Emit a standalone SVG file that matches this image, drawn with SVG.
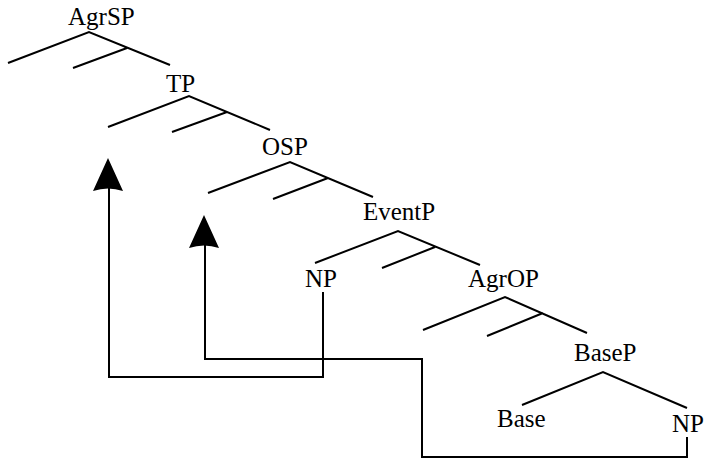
<svg xmlns="http://www.w3.org/2000/svg" width="704" height="459" viewBox="0 0 704 459">
<style>
.l{stroke:#000;stroke-width:2;fill:none;stroke-linecap:butt}
.t{font-family:"Liberation Serif","Times New Roman",serif;font-size:25px;fill:#000}
.a{fill:#000;stroke:none}
</style>
<rect width="704" height="459" fill="#fff"/>
<g id="AgrSP">
<text class="t" x="68" y="25">AgrSP</text>
<path class="l" d="M8,63 L89,32 L170,65 M127,48 L73,68"/>
</g>
<g id="TP">
<text class="t" x="166" y="92">TP</text>
<path class="l" d="M108,127 L189,96 L270,130 M227,112 L172,132"/>
</g>
<g id="OSP">
<text class="t" x="262" y="155">OSP</text>
<path class="l" d="M208,193 L290,162 L373,197 M328,178 L273,199"/>
</g>
<g id="EventP">
<text class="t" x="363" y="220">EventP</text>
<path class="l" d="M315,263 L398,231 L480,265 M435,247 L382,268"/>
</g>
<g id="NP1">
<text class="t" x="305" y="287">NP</text>
</g>
<g id="AgrOP">
<text class="t" x="468" y="287">AgrOP</text>
<path class="l" d="M423,330 L505,297 L587,333 M543,313 L487,336"/>
</g>
<g id="BaseP">
<text class="t" x="574" y="361">BaseP</text>
<path class="l" d="M522,405 L603,372 L687,408"/>
</g>
<g id="Base">
<text class="t" x="497" y="427">Base</text>
</g>
<g id="NP2">
<text class="t" x="672" y="432">NP</text>
</g>
<g id="connectors">
<path class="l" d="M323,292 L323,377 L109,377 L109,188"/>
<path class="a" d="M108,158 L123,191 Q108,186 93,191 Z"/>
<path class="l" d="M687,437 L687,457 L422,457 L422,359 L205,359 L205,245"/>
<path class="a" d="M204,215 L219,248 Q204,243 189,248 Z"/>
</g>
</svg>
